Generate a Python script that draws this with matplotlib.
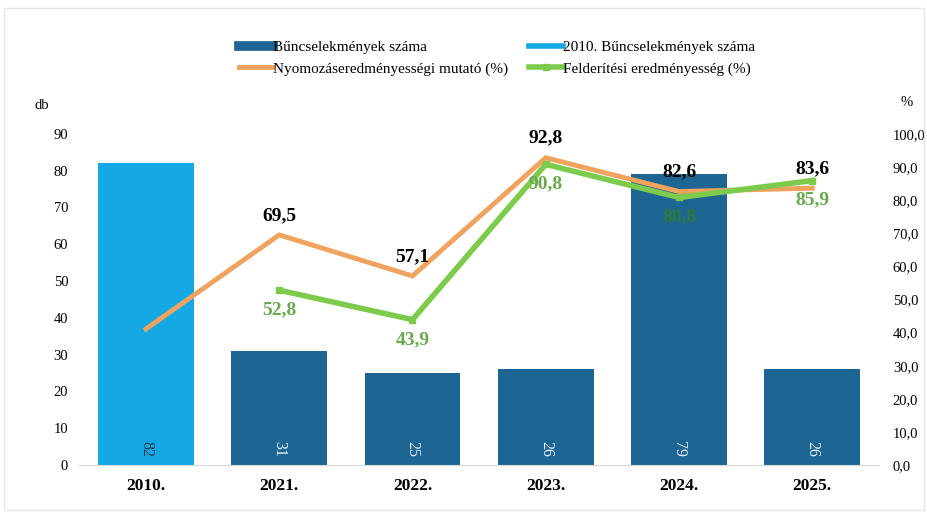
import matplotlib
matplotlib.use("Agg")
import matplotlib.pyplot as plt
from matplotlib.lines import Line2D
from matplotlib.patches import Rectangle

plt.rcParams['font.family'] = ['Liberation Serif', 'DejaVu Serif']

categories = ["2010.", "2021.", "2022.", "2023.", "2024.", "2025."]
crimes = [82, 31, 25, 26, 79, 26]
investigation = [41.1, 69.5, 57.1, 92.8, 82.6, 83.6]   # Nyomozáseredményességi mutató (%)
detection = [None, 52.8, 43.9, 90.8, 80.8, 85.9]        # Felderítési eredményesség (%)
left_ticks = [0, 10, 20, 30, 40, 50, 60, 70, 80, 90]
right_ticks = [0, 10, 20, 30, 40, 50, 60, 70, 80, 90, 100]
inv_labels_shown = [False, True, True, True, True, True]

DARK_BLUE = "#1d6592"
LIGHT_BLUE = "#14a9e4"
ORANGE = "#f0a35e"
GREEN = "#7dcb4d"
GREEN_TXT = "#6aa84f"

fig = plt.figure(figsize=(9.28, 5.15), dpi=100)
ax = fig.add_axes([0.0855, 0.097, 0.8616, 0.643])
ax2 = ax.twinx()

x = list(range(len(categories)))
colors = [LIGHT_BLUE] + [DARK_BLUE] * (len(categories) - 1)
bars = ax.bar(x, crimes, width=0.72, color=colors, zorder=2)
for xi, v, c in zip(x, crimes, colors):
    ax.text(xi, 2.3, str(v), rotation=270, ha='center', va='bottom',
            fontsize=11.5, color=("#2d3e4a" if c == LIGHT_BLUE else "#e8eef3"), zorder=3)

ax.set_ylim(0, 90)
ax.set_xlim(-0.5, len(categories) - 0.5)
ax.set_yticks(left_ticks)
ax.set_yticklabels([str(t) for t in left_ticks], fontsize=10.5)
ax.set_xticks(x)
ax.set_xticklabels(categories, fontsize=12.5, fontweight='bold')
ax.tick_params(axis='y', length=0, pad=8)
ax.tick_params(axis='x', length=0, pad=9)

ax2.set_ylim(0, 100)
ax2.set_yticks(right_ticks)
ax2.set_yticklabels([f"{t:.1f}".replace('.', ',') for t in right_ticks], fontsize=10.5)
ax2.tick_params(axis='y', length=0, pad=10)

for a in (ax, ax2):
    for s in ('top', 'left', 'right'):
        a.spines[s].set_visible(False)
    a.spines['bottom'].set_color('#d9d9d9')
ax2.spines['bottom'].set_visible(False)

ax2.plot(x, investigation, color=ORANGE, lw=3.5, zorder=4, solid_joinstyle='miter')
dx = [xi for xi, d in zip(x, detection) if d is not None]
dy = [d for d in detection if d is not None]
ax2.plot(dx, dy, color=GREEN, lw=4, marker='s', markersize=4, zorder=5)

for xi, v, show in zip(x, investigation, inv_labels_shown):
    if show:
        ax2.annotate(f"{v:.1f}".replace('.', ','), (xi, v), xytext=(0, 8),
                     textcoords='offset points', ha='center', va='bottom',
                     fontsize=14, fontweight='bold', color='black', zorder=6)
for xi, v in zip(dx, dy):
    ax2.annotate(f"{v:.1f}".replace('.', ','), (xi, v), xytext=(0, -8),
                 textcoords='offset points', ha='center', va='top',
                 fontsize=14, fontweight='bold',
                 color=(GREEN_TXT if xi != 4 else "#2f7a3a"), zorder=6)

fig.text(0.045, 0.795, "db", fontsize=10.5, ha='center', va='center')
fig.text(0.977, 0.8, "%", fontsize=10.5, ha='center', va='center')

handles = [
    Line2D([0], [0], color=DARK_BLUE, lw=7),
    Line2D([0], [0], color=ORANGE, lw=3.5),
    Line2D([0], [0], color=LIGHT_BLUE, lw=4),
    Line2D([0], [0], color=GREEN, lw=4, marker='s', markersize=4),
]
labels = ["Bűncselekmények száma", "Nyomozáseredményességi mutató (%)",
          "2010. Bűncselekmények száma", "Felderítési eredményesség (%)"]
fig.legend(handles, labels, ncol=2, loc='upper left', bbox_to_anchor=(0.243, 0.948),
           frameon=False, fontsize=11, handlelength=2.2, handletextpad=0.0,
           columnspacing=1.4, labelspacing=0.5)

fig.patches.append(Rectangle((0.004, 0.01), 0.992, 0.975, transform=fig.transFigure,
                             fill=False, edgecolor='#e6e6e6', lw=1))

fig.savefig("out.png", dpi=100)
